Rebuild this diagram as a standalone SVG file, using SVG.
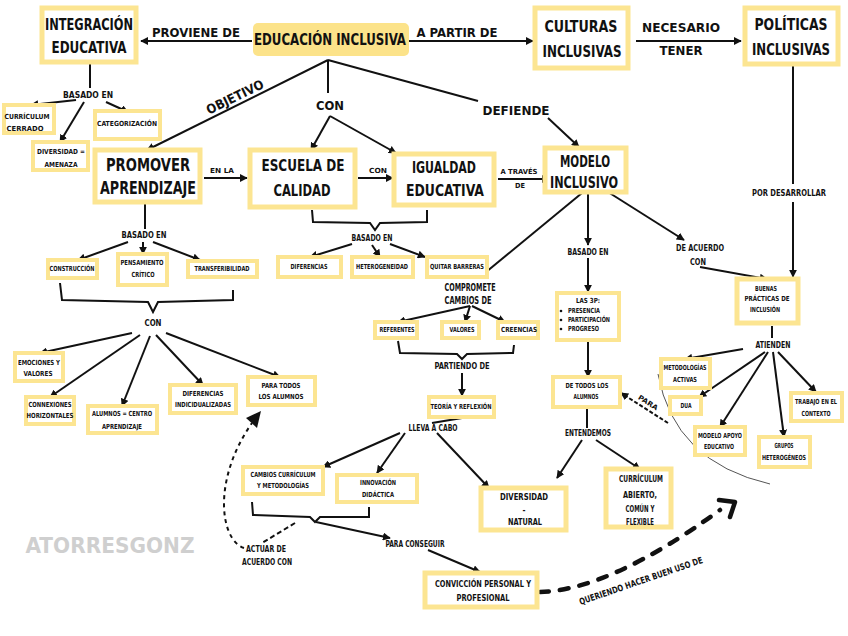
<svg xmlns="http://www.w3.org/2000/svg" width="848" height="636" viewBox="0 0 848 636">
<defs>
<style>
text{font-family:"DejaVu Sans Condensed","DejaVu Sans",sans-serif;font-weight:bold;fill:#111;text-anchor:middle;dominant-baseline:central}
.b{font-size:15px}.m{font-size:13px}.s{font-size:7px}.l{font-size:9px}.c2{font-size:10px}
.box{fill:#fff;stroke:#fce592;stroke-width:4}
.bx{fill:#fff;stroke:#fce592;stroke-width:5}
.ln{stroke:#111;stroke-width:2;fill:none}
.ar{stroke:#111;stroke-width:2;fill:none;marker-end:url(#a)}
</style>
<marker id="a" viewBox="0 0 10 10" refX="9" refY="5" markerWidth="8" markerHeight="8" markerUnits="userSpaceOnUse" orient="auto"><path d="M0,0 L10,5 L0,10 z" fill="#111"/></marker>
</defs>
<rect width="848" height="636" fill="#fff"/>

<g id="connectors">
<path class="ar" d="M252,41 L141,41"/>
<path class="ar" d="M409,41 L533,41"/>
<path class="ar" d="M636,41 L741,41"/>
<path class="ln" d="M793,64 L793,184"/>
<path class="ar" d="M793,202 L793,277"/>
<path class="ar" d="M328,60 L147,150"/>
<path class="ln" d="M328,60 L328,93"/>
<path class="ln" d="M328,60 L478,101"/>
<path class="ar" d="M548,118 L579,147"/>
<path class="ar" d="M330,116 L311,150"/>
<path class="ar" d="M330,116 L396,153"/>
<path class="ar" d="M204,178 L247,178"/>
<path class="ar" d="M358,178 L393,178"/>
<path class="ar" d="M498,179 L549,179"/>
<path class="ln" d="M90,62 L90,88"/>
<path class="ar" d="M76,100 L31,105"/>
<path class="ar" d="M84,102 L60,142"/>
<path class="ar" d="M106,102 L128,112"/>
<path class="ln" d="M145,203 L145,229"/>
<path class="ar" d="M128,242 L78,260"/>
<path class="ar" d="M143,242 L143,254"/>
<path class="ar" d="M153,242 L200,260"/>
<path class="ln" d="M60,283 L62,300 L148,302 L153,312 L158,302 L233,300 L233,290"/>
<path class="ar" d="M132,333 L40,353"/>
<path class="ar" d="M140,335 L50,397"/>
<path class="ar" d="M150,336 L122,406"/>
<path class="ar" d="M156,335 L203,385"/>
<path class="ar" d="M166,333 L280,377"/>
<path class="ln" d="M312,210 L313,222 L370,223 L375,230 L380,223 L427,222 L427,210"/>
<path class="ar" d="M352,244 L310,257"/>
<path class="ar" d="M372,245 L380,257"/>
<path class="ar" d="M390,244 L425,257"/>
<path class="ar" d="M582,193 L480,277"/>
<path class="ar" d="M470,306 L398,322"/>
<path class="ar" d="M470,306 L465,322"/>
<path class="ar" d="M472,306 L505,322"/>
<path class="ln" d="M398,341 L400,353 L457,354 L462,359 L467,354 L513,353 L514,345"/>
<path class="ar" d="M462,373 L462,396"/>
<path class="ln" d="M462,418 L432,423"/>
<path class="ar" d="M400,433 L323,467"/>
<path class="ar" d="M405,433 L377,473"/>
<path class="ar" d="M437,433 L489,488"/>
<path class="ln" d="M252,502 L253,515 L310,517 L315,522 L320,517 L369,517 L369,507"/>
<path class="ar" d="M316,522 L390,538"/>
<path class="ln" d="M295,523 L262,543" stroke-dasharray="5,3"/>
<path class="ar" d="M428,550 L480,572"/>
<path class="ln" d="M244,548 C220,540 212,480 252,423" stroke-width="2.5" stroke-dasharray="4,4"/>
<path d="M261,411 L246,418 L257,428 z" fill="#111"/>
<path class="ar" d="M588,193 L588,245"/>
<path class="ar" d="M588,258 L588,292"/>
<path class="ar" d="M588,341 L588,377"/>
<path class="ln" d="M587,408 L587,428"/>
<path class="ar" d="M582,440 L557,478"/>
<path class="ar" d="M596,440 L640,469"/>
<path class="ar" d="M608,192 L684,240"/>
<path class="ar" d="M700,267 L767,279"/>
<path class="ln" d="M772,326 L772,338"/>
<path class="ar" d="M743,349 L685,359"/>
<path class="ar" d="M765,352 L699,397"/>
<path class="ar" d="M768,352 L720,427"/>
<path class="ar" d="M773,352 L784,437"/>
<path class="ar" d="M778,352 L816,392"/>
<path class="ar" d="M668,423 L621,393" stroke-dasharray="4,2"/>
<path d="M658,374 Q674,462 770,484" fill="none" stroke="#555" stroke-width="1"/>
<path d="M540,592 Q610,590 720,510" fill="none" stroke="#111" stroke-width="4.5" stroke-linecap="round" stroke-dasharray="9,11"/>
<path d="M719,500 L735,502 L730,517" fill="none" stroke="#111" stroke-width="4.5" stroke-linecap="round" stroke-linejoin="round"/>
</g>

<g id="labels">
<text class="m" x="196" y="32" textLength="88" lengthAdjust="spacingAndGlyphs">PROVIENE DE</text>
<text class="m" x="457" y="32" textLength="81" lengthAdjust="spacingAndGlyphs">A PARTIR DE</text>
<text class="m" x="681" y="27" textLength="78" lengthAdjust="spacingAndGlyphs">NECESARIO</text>
<text class="m" x="681" y="50" textLength="43" lengthAdjust="spacingAndGlyphs">TENER</text>
<text class="l" x="789" y="193" textLength="74" lengthAdjust="spacingAndGlyphs">POR DESARROLLAR</text>
<text class="m" x="235" y="97" textLength="62" lengthAdjust="spacingAndGlyphs" transform="rotate(-26 235 97)">OBJETIVO</text>
<text class="m" x="330" y="105" textLength="28" lengthAdjust="spacingAndGlyphs">CON</text>
<text class="m" x="516" y="110" textLength="67" lengthAdjust="spacingAndGlyphs">DEFIENDE</text>
<text class="s" x="222" y="171" textLength="24" lengthAdjust="spacingAndGlyphs">EN LA</text>
<text class="s" x="378" y="171" textLength="18" lengthAdjust="spacingAndGlyphs">CON</text>
<text class="s" x="519" y="172" textLength="37" lengthAdjust="spacingAndGlyphs">A TRAVÉS</text>
<text class="s" x="520" y="186" textLength="10" lengthAdjust="spacingAndGlyphs">DE</text>
<text class="l" x="88" y="95" textLength="50" lengthAdjust="spacingAndGlyphs">BASADO EN</text>
<text class="l" x="144" y="235" textLength="45" lengthAdjust="spacingAndGlyphs">BASADO EN</text>
<text class="l" x="153" y="323" textLength="17" lengthAdjust="spacingAndGlyphs">CON</text>
<text class="l" x="372" y="238" textLength="41" lengthAdjust="spacingAndGlyphs">BASADO EN</text>
<text class="c2" x="470" y="287" textLength="51" lengthAdjust="spacingAndGlyphs">COMPROMETE</text>
<text class="c2" x="468" y="300" textLength="47" lengthAdjust="spacingAndGlyphs">CAMBIOS DE</text>
<text class="l" x="462" y="366" textLength="55" lengthAdjust="spacingAndGlyphs">PARTIENDO DE</text>
<text class="l" x="433" y="428" textLength="49" lengthAdjust="spacingAndGlyphs">LLEVA A CABO</text>
<text class="l" x="266" y="549" textLength="40" lengthAdjust="spacingAndGlyphs">ACTUAR DE</text>
<text class="l" x="267" y="562" textLength="50" lengthAdjust="spacingAndGlyphs">ACUERDO CON</text>
<text class="l" x="415" y="544" textLength="59" lengthAdjust="spacingAndGlyphs">PARA CONSEGUIR</text>
<text class="l" x="588" y="252" textLength="41" lengthAdjust="spacingAndGlyphs">BASADO EN</text>
<text class="l" x="588" y="433" textLength="46" lengthAdjust="spacingAndGlyphs">ENTENDEMOS</text>
<text class="l" x="700" y="248" textLength="48" lengthAdjust="spacingAndGlyphs">DE ACUERDO</text>
<text class="l" x="698" y="262" textLength="16" lengthAdjust="spacingAndGlyphs">CON</text>
<text class="l" x="773" y="345" textLength="35" lengthAdjust="spacingAndGlyphs">ATIENDEN</text>
<text class="s" x="648" y="403" textLength="22" lengthAdjust="spacingAndGlyphs" transform="rotate(32 648 403)">PARA</text>
<text class="l" x="641" y="581" textLength="130" lengthAdjust="spacingAndGlyphs" transform="rotate(-19 641 581)">QUERIENDO HACER BUEN USO DE</text>
<text x="110" y="545" style="font-size:22px;fill:#cfcfcf" textLength="169" lengthAdjust="spacingAndGlyphs">ATORRESGONZ</text>
</g>

<g id="integracion"><rect class="bx" x="42" y="8" width="94" height="54"/><text class="b" x="89" y="25" textLength="88" lengthAdjust="spacingAndGlyphs">INTEGRACIÓN</text><text class="b" x="89" y="48" textLength="75" lengthAdjust="spacingAndGlyphs">EDUCATIVA</text></g>
<g id="educacion"><rect x="253" y="23" width="156" height="33" rx="5" fill="#fce38a"/><text class="b" x="330" y="40" textLength="152" lengthAdjust="spacingAndGlyphs">EDUCACIÓN INCLUSIVA</text></g>
<g id="culturas"><rect class="bx" x="535" y="8" width="93" height="60"/><text class="b" x="581" y="27" textLength="73" lengthAdjust="spacingAndGlyphs">CULTURAS</text><text class="b" x="582" y="52" textLength="79" lengthAdjust="spacingAndGlyphs">INCLUSIVAS</text></g>
<g id="politicas"><rect class="bx" x="745" y="8" width="93" height="56"/><text class="b" x="791" y="25" textLength="73" lengthAdjust="spacingAndGlyphs">POLÍTICAS</text><text class="b" x="791" y="50" textLength="78" lengthAdjust="spacingAndGlyphs">INCLUSIVAS</text></g>

<g id="promover"><rect class="bx" x="95" y="150" width="105" height="52"/><text class="b" x="148" y="165" textLength="84" lengthAdjust="spacingAndGlyphs" style="font-size:17px">PROMOVER</text><text class="b" x="148" y="188" textLength="96" lengthAdjust="spacingAndGlyphs" style="font-size:17px">APRENDIZAJE</text></g>
<g id="escuela"><rect class="bx" x="250" y="150" width="105" height="57"/><text class="b" x="303" y="165" textLength="83" lengthAdjust="spacingAndGlyphs" style="font-size:16px">ESCUELA DE</text><text class="b" x="302" y="190" textLength="57" lengthAdjust="spacingAndGlyphs" style="font-size:16px">CALIDAD</text></g>
<g id="igualdad"><rect class="bx" x="394" y="154" width="100" height="51"/><text class="b" x="444" y="167" textLength="64" lengthAdjust="spacingAndGlyphs" style="font-size:16px">IGUALDAD</text><text class="b" x="445" y="190" textLength="78" lengthAdjust="spacingAndGlyphs" style="font-size:16px">EDUCATIVA</text></g>
<g id="modelo"><rect class="bx" x="545" y="148" width="81" height="44"/><text class="b" x="585" y="161" textLength="50" lengthAdjust="spacingAndGlyphs" style="font-size:16px">MODELO</text><text class="b" x="584" y="182" textLength="68" lengthAdjust="spacingAndGlyphs" style="font-size:16px">INCLUSIVO</text></g>

<g id="curriculum-cerrado"><rect class="box" x="4" y="105" width="50" height="28"/><text class="s" x="27" y="117" textLength="45" lengthAdjust="spacingAndGlyphs">CURRÍCULUM</text><text class="s" x="25" y="129" textLength="37" lengthAdjust="spacingAndGlyphs">CERRADO</text></g>
<g id="categorizacion"><rect class="box" x="95" y="111" width="65" height="28"/><text class="s" x="127" y="124" textLength="60" lengthAdjust="spacingAndGlyphs">CATEGORIZACIÓN</text></g>
<g id="diversidad-amenaza"><rect class="box" x="33" y="142" width="55" height="28"/><text class="s" x="61" y="152" textLength="48" lengthAdjust="spacingAndGlyphs">DIVERSIDAD =</text><text class="s" x="61" y="165" textLength="33" lengthAdjust="spacingAndGlyphs">AMENAZA</text></g>

<g id="construccion"><rect class="box" x="48" y="260" width="49" height="18"/><text class="s" x="72" y="269" textLength="45" lengthAdjust="spacingAndGlyphs">CONSTRUCCIÓN</text></g>
<g id="pensamiento"><rect class="box" x="118" y="254" width="49" height="31"/><text class="s" x="142" y="263" textLength="43" lengthAdjust="spacingAndGlyphs">PENSAMIENTO</text><text class="s" x="143" y="275" textLength="23" lengthAdjust="spacingAndGlyphs">CRÍTICO</text></g>
<g id="transferibilidad"><rect class="box" x="188" y="261" width="69" height="16"/><text class="s" x="222" y="269" textLength="55" lengthAdjust="spacingAndGlyphs">TRANSFERIBILIDAD</text></g>

<g id="emociones"><rect class="box" x="15" y="353" width="48" height="28"/><text class="s" x="39" y="363" textLength="42" lengthAdjust="spacingAndGlyphs">EMOCIONES Y</text><text class="s" x="38" y="374" textLength="29" lengthAdjust="spacingAndGlyphs">VALORES</text></g>
<g id="connexiones"><rect class="box" x="26" y="397" width="48" height="27"/><text class="s" x="50" y="405" textLength="43" lengthAdjust="spacingAndGlyphs">CONNEXIONES</text><text class="s" x="50" y="416" textLength="47" lengthAdjust="spacingAndGlyphs">HORIZONTALES</text></g>
<g id="alumnos-centro"><rect class="box" x="88" y="406" width="69" height="27"/><text class="s" x="122" y="414" textLength="60" lengthAdjust="spacingAndGlyphs">ALUMNOS = CENTRO</text><text class="s" x="122" y="427" textLength="40" lengthAdjust="spacingAndGlyphs">APRENDIZAJE</text></g>
<g id="diferencias-ind"><rect class="box" x="170" y="385" width="66" height="28"/><text class="s" x="203" y="394" textLength="41" lengthAdjust="spacingAndGlyphs">DIFERENCIAS</text><text class="s" x="203" y="405" textLength="56" lengthAdjust="spacingAndGlyphs">INDICIDUALIZADAS</text></g>
<g id="para-todos"><rect class="box" x="248" y="377" width="67" height="28"/><text class="s" x="281" y="386" textLength="39" lengthAdjust="spacingAndGlyphs">PARA TODOS</text><text class="s" x="281" y="397" textLength="45" lengthAdjust="spacingAndGlyphs">LOS ALUMNOS</text></g>

<g id="diferencias"><rect class="box" x="278" y="257" width="63" height="20"/><text class="s" x="309" y="267" textLength="37" lengthAdjust="spacingAndGlyphs">DIFERENCIAS</text></g>
<g id="heterogeneidad"><rect class="box" x="352" y="257" width="61" height="20"/><text class="s" x="382" y="267" textLength="52" lengthAdjust="spacingAndGlyphs">HETEROGENEIDAD</text></g>
<g id="quitar-barreras"><rect class="box" x="427" y="257" width="60" height="20"/><text class="s" x="457" y="267" textLength="54" lengthAdjust="spacingAndGlyphs">QUITAR BARRERAS</text></g>

<g id="referentes"><rect class="box" x="375" y="322" width="42" height="16"/><text class="s" x="397" y="330" textLength="35" lengthAdjust="spacingAndGlyphs">REFERENTES</text></g>
<g id="valores"><rect class="box" x="442" y="322" width="37" height="16"/><text class="s" x="462" y="330" textLength="25" lengthAdjust="spacingAndGlyphs">VALORES</text></g>
<g id="creencias"><rect class="box" x="498" y="322" width="40" height="16"/><text class="s" x="519" y="330" textLength="36" lengthAdjust="spacingAndGlyphs">CREENCIAS</text></g>

<g id="teoria"><rect class="box" x="429" y="397" width="65" height="20"/><text class="s" x="461" y="407" textLength="61" lengthAdjust="spacingAndGlyphs">TEORÍA Y REFLEXIÓN</text></g>
<g id="cambios-curriculum"><rect class="box" x="243" y="467" width="80" height="27"/><text class="s" x="283" y="475" textLength="65" lengthAdjust="spacingAndGlyphs">CAMBIOS CURRÍCULUM</text><text class="s" x="283" y="486" textLength="52" lengthAdjust="spacingAndGlyphs">Y METODOLOGÍAS</text></g>
<g id="innovacion"><rect class="box" x="337" y="475" width="80" height="27"/><text class="s" x="378" y="483" textLength="36" lengthAdjust="spacingAndGlyphs">INNOVACIÓN</text><text class="s" x="378" y="495" textLength="32" lengthAdjust="spacingAndGlyphs">DIDÁCTICA</text></g>
<g id="diversidad-natural"><rect class="bx" x="481" y="488" width="85" height="42"/><text class="s" x="524" y="497" textLength="48" lengthAdjust="spacingAndGlyphs" style="font-size:8px">DIVERSIDAD</text><text class="s" x="524" y="510" style="font-size:8px">-</text><text class="s" x="525" y="522" textLength="34" lengthAdjust="spacingAndGlyphs" style="font-size:8px">NATURAL</text></g>
<g id="conviccion"><rect class="bx" x="425" y="573" width="112" height="34"/><text class="l" x="483" y="584" textLength="96" lengthAdjust="spacingAndGlyphs">CONVICCIÓN PERSONAL Y</text><text class="l" x="483" y="598" textLength="53" lengthAdjust="spacingAndGlyphs">PROFESIONAL</text></g>

<g id="las3p"><rect class="box" x="557" y="293" width="62" height="47"/><text class="s" x="588" y="301" textLength="24" lengthAdjust="spacingAndGlyphs">LAS 3P:</text><circle cx="561" cy="311" r="1.3" fill="#111"/><circle cx="561" cy="320" r="1.3" fill="#111"/><circle cx="561" cy="329" r="1.3" fill="#111"/><text class="s" x="584" y="311" textLength="32" lengthAdjust="spacingAndGlyphs">PRESENCIA</text><text class="s" x="589" y="320" textLength="42" lengthAdjust="spacingAndGlyphs">PARTICIPACIÓN</text><text class="s" x="583.5" y="329" textLength="31" lengthAdjust="spacingAndGlyphs">PROGRESO</text></g>
<g id="de-todos"><rect class="box" x="553" y="377" width="67" height="30"/><text class="s" x="587" y="386" textLength="43" lengthAdjust="spacingAndGlyphs">DE TODOS LOS</text><text class="s" x="586" y="397" textLength="25" lengthAdjust="spacingAndGlyphs">ALUMNOS</text></g>
<g id="curriculum-abierto"><rect class="bx" x="606" y="469" width="65" height="58"/><text class="l" x="641" y="479" textLength="44" lengthAdjust="spacingAndGlyphs">CURRÍCULUM</text><text class="l" x="640" y="495" textLength="34" lengthAdjust="spacingAndGlyphs">ABIERTO,</text><text class="l" x="640" y="509" textLength="29" lengthAdjust="spacingAndGlyphs">COMÚN Y</text><text class="l" x="640" y="522" textLength="28" lengthAdjust="spacingAndGlyphs">FLEXIBLE</text></g>

<g id="buenas-practicas"><rect class="bx" x="737" y="279" width="61" height="44"/><text class="s" x="766" y="289" textLength="22" lengthAdjust="spacingAndGlyphs">BUENAS</text><text class="s" x="767" y="299" textLength="45" lengthAdjust="spacingAndGlyphs">PRÁCTICAS DE</text><text class="s" x="765" y="310" textLength="30" lengthAdjust="spacingAndGlyphs">INCLUSIÓN</text></g>
<g id="metodologias"><rect class="box" x="661" y="359" width="49" height="29"/><text class="s" x="685" y="368" textLength="43" lengthAdjust="spacingAndGlyphs">METODOLOGÍAS</text><text class="s" x="685" y="380" textLength="24" lengthAdjust="spacingAndGlyphs">ACTIVAS</text></g>
<g id="dua"><rect class="box" x="670" y="397" width="31" height="17"/><text class="s" x="686" y="406" textLength="11" lengthAdjust="spacingAndGlyphs">DUA</text></g>
<g id="modelo-apoyo"><rect class="box" x="695" y="427" width="50" height="28"/><text class="s" x="720" y="436" textLength="44" lengthAdjust="spacingAndGlyphs">MODELO APOYO</text><text class="s" x="719" y="447" textLength="30" lengthAdjust="spacingAndGlyphs">EDUCATIVO</text></g>
<g id="grupos"><rect class="box" x="759" y="437" width="51" height="30"/><text class="s" x="784" y="446" textLength="19" lengthAdjust="spacingAndGlyphs">GRUPOS</text><text class="s" x="784" y="458" textLength="44" lengthAdjust="spacingAndGlyphs">HETEROGÉNEOS</text></g>
<g id="trabajo"><rect class="box" x="791" y="393" width="51" height="28"/><text class="s" x="816" y="402" textLength="42" lengthAdjust="spacingAndGlyphs">TRABAJO EN EL</text><text class="s" x="816" y="414" textLength="29" lengthAdjust="spacingAndGlyphs">CONTEXTO</text></g>
</svg>
